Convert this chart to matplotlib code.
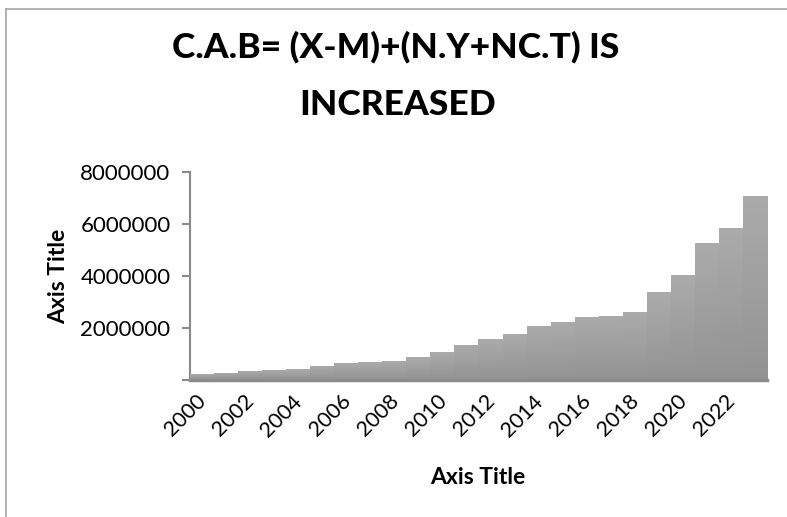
import numpy as np
import matplotlib
matplotlib.use("Agg")
import matplotlib.pyplot as plt
from matplotlib.lines import Line2D

# values (C.A.B per year)
years = list(range(2000, 2024))
cab = [240000, 280000, 360000, 400000, 410000, 550000, 670000, 690000,
       730000, 880000, 1080000, 1360000, 1580000, 1780000, 2090000, 2230000,
       2430000, 2470000, 2620000, 3380000, 4040000, 5280000, 5850000, 7090000]
tick_years = [str(y) for y in years[::2]]
y_ticks = [0, 2000000, 4000000, 6000000, 8000000]

plt.rcParams['font.family'] = ['Lato', 'DejaVu Sans']

fig = plt.figure(figsize=(7.87, 5.17), dpi=100)
ax = fig.add_axes([0.2414, 0.265, 0.7332, 0.4023])

x = np.arange(len(years))
bars = ax.bar(x, cab, width=1.0, color='#a5a5a5', edgecolor='none', zorder=2)

# vertical gradient inside each bar (lighter top, darker bottom)
grad = np.linspace(0, 1, 64).reshape(-1, 1)
cmap = matplotlib.colors.LinearSegmentedColormap.from_list('g', ['#939393', '#ababab'])
for b in bars:
    im = ax.imshow(grad, extent=[b.get_x(), b.get_x() + b.get_width(), 0, b.get_height()],
                   origin='lower', cmap=cmap, aspect='auto', zorder=3)
    im.set_clip_path(b)

ax.set_xlim(-0.5, len(years) - 0.5)
ax.set_ylim(0, 8000000)
ax.set_yticks(y_ticks)
ax.set_yticklabels([''] + [str(v) for v in y_ticks[1:]], fontsize=16)
ax.set_xticks(x[::2] - 0.25)
ax.set_xticklabels(tick_years, fontsize=15.5, rotation=45, ha='right', rotation_mode='anchor')
ax.tick_params(axis='x', length=0, pad=8)
ax.tick_params(axis='y', length=6, width=1.5, color='#8a8a8a', pad=8)

for s in ['top', 'right']:
    ax.spines[s].set_visible(False)
ax.spines['left'].set_color('#8a8a8a')
ax.spines['left'].set_linewidth(1.5)
ax.spines['bottom'].set_color('#8c8c8c')
ax.spines['bottom'].set_linewidth(2.5)
ax.spines['bottom'].set_zorder(4)

ax.set_ylabel('Axis Title', fontsize=16.5, fontweight='bold', labelpad=8)
fig.text(0.607, 1 - 478 / 517, 'Axis Title', fontsize=16.5, fontweight='bold',
         ha='center', va='center')

fig.text(0.503, 1 - 47 / 517, 'C.A.B= (X-M)+(N.Y+NC.T) IS', fontsize=25.5,
         fontweight='black', ha='center', va='center')
fig.text(0.505, 1 - 105 / 517, 'INCREASED', fontsize=25.5,
         fontweight='black', ha='center', va='center')

# chart frame (only top and left edges visible in the crop)
fig.add_artist(Line2D([6 / 787, 1], [1 - 9 / 517, 1 - 9 / 517], color='#a6a6a6', lw=1.2))
fig.add_artist(Line2D([6 / 787, 6 / 787], [0, 1 - 9 / 517], color='#a6a6a6', lw=1.2))

fig.savefig('out.png', dpi=100)
